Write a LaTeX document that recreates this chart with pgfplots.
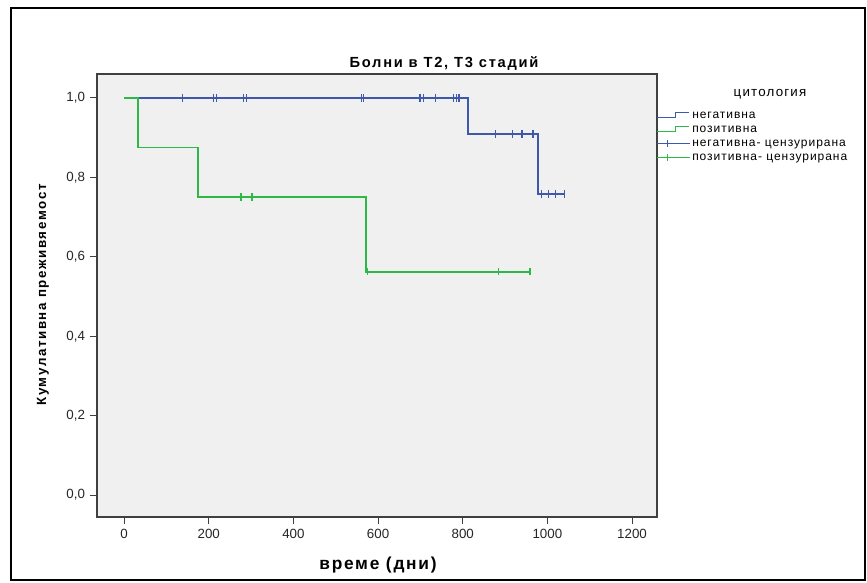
\documentclass[border=0pt]{standalone}
\usepackage{fontspec}
\setmainfont{Liberation Sans}
\usepackage{pgfplots}
\pgfplotsset{compat=1.18}
\definecolor{kmblue}{RGB}{62,88,172}
\definecolor{kmgreen}{RGB}{46,184,72}
\definecolor{plotbg}{RGB}{240,240,240}
\begin{document}
\begin{tikzpicture}[x=0.75pt,y=0.75pt]
\path[use as bounding box, fill=white] (0,0) rectangle (867,582);
\draw[black, line width=1.5pt] (11,2) rectangle (865,574);
\begin{axis}[
 at={(72.75pt,48.75pt)}, anchor=south west,
 scale only axis, width=420pt, height=332.25pt,
 xmin=-64, xmax=1259, ymin=-0.055, ymax=1.06,
 axis background/.style={fill=plotbg},
 axis line style={draw=black!75, line width=0.8pt},
 xtick={0,200,400,600,800,1000,1200}, ytick={0,0.2,0.4,0.6,0.8,1.0},
 tick align=outside, tick pos=left, major tick length=5.5pt,
 tick style={draw=black!75, line width=0.8pt},
 yticklabel style={/pgf/number format/.cd, fixed, fixed zerofill, precision=1, use comma},
 xticklabel style={/pgf/number format/1000 sep={}},
 /pgf/number format/assume math mode=true,
 ticklabel style={font=\fontsize{10}{12}\selectfont, text=black!85},
 legend style={at={(rel axis cs:0.998,0.923)}, anchor=north west, draw=none, fill=none,
   font=\fontsize{9}{10}\selectfont\addfontfeatures{LetterSpace=8}, row sep=0pt, inner sep=0pt,
   nodes={inner sep=1pt, text height=6.5pt, text depth=2pt}},
 legend cell align=left,
]
\addplot[kmblue, line width=1.3pt, const plot,
  legend image code/.code={\draw[kmblue, line width=1.1pt] (0pt,-1.5pt) -- (14pt,-1.5pt) -- (14pt,2pt) -- (24pt,2pt);}]
  coordinates {(0,1) (813,0.909) (977,0.758) (1042,0.758)};
\addlegendentry{негативна}
\addplot[kmgreen, line width=1.3pt, const plot,
  legend image code/.code={\draw[kmgreen, line width=1.1pt] (0pt,-1.5pt) -- (14pt,-1.5pt) -- (14pt,2pt) -- (24pt,2pt);}]
  coordinates {(0,1) (32,0.875) (174,0.75) (572,0.5625) (962,0.5625)};
\addlegendentry{позитивна}
\addplot[kmblue, only marks, mark=|, mark size=2.8pt, mark options={line width=0.9pt},
  legend image code/.code={\draw[kmblue, line width=1.1pt] (0pt,0pt) -- (25pt,0pt); \draw[kmblue, line width=0.9pt] (8pt,-2.8pt) -- (8pt,2.8pt);}]
  coordinates {(138,1)(211,1)(219,1)(282,1)(290,1)(561,1)(566,1)(699,1)(707,1)(736,1)(778,1)(786,1)(791,1)
  (877,0.909)(917,0.909)(940,0.909)(966,0.909)(987,0.758)(1003,0.758)(1020,0.758)(1040,0.758)};
\addlegendentry{негативна- цензурирана}
\addplot[kmgreen, only marks, mark=|, mark size=2.8pt, mark options={line width=0.9pt},
  legend image code/.code={\draw[kmgreen, line width=1.1pt] (0pt,0pt) -- (25pt,0pt); \draw[kmgreen, line width=0.9pt] (8pt,-2.8pt) -- (8pt,2.8pt);}]
  coordinates {(276,0.75)(302,0.75)(575,0.5625)(884,0.5625)(959,0.5625)};
\addlegendentry{позитивна- цензурирана}
\end{axis}
\node[font=\fontsize{10}{12}\selectfont\addfontfeatures{LetterSpace=9}] at (770,488) {цитология};
\node[font=\bfseries\fontsize{11}{13}\selectfont\addfontfeatures{LetterSpace=12}] at (444,518) {Болни в T2, T3 стадий};
\node[font=\bfseries\fontsize{13}{15}\selectfont\addfontfeatures{LetterSpace=10}] at (378,17) {време (дни)};
\node[font=\bfseries\fontsize{10}{12}\selectfont\addfontfeatures{LetterSpace=12}, rotate=90] at (43,287) {Кумулативна преживяемост};
\end{tikzpicture}
\end{document}
